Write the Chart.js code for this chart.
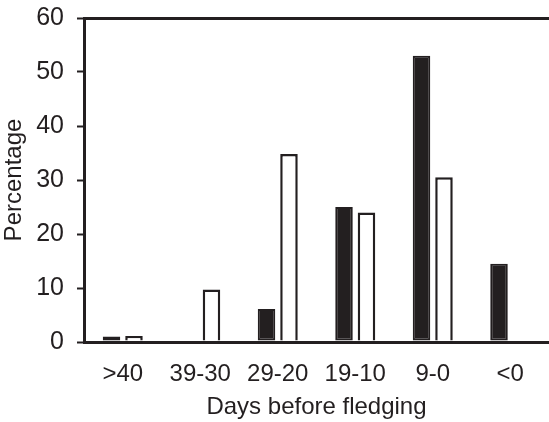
<!DOCTYPE html>
<html>
<head>
<meta charset="utf-8">
<script src="https://cdn.jsdelivr.net/npm/chart.js@4"></script>
<style>
  html, body { margin: 0; padding: 0; background: #fff; }
  #wrap { width: 549px; height: 422px; position: relative; }
</style>
</head>
<body>
<div id="wrap"><canvas id="fledgeChart"></canvas></div>
<script>
// Days before fledging, grouped by period
const periods = ['>40', '39-30', '29-20', '19-10', '9-0', '<0'];
const filledSeries = [1.0, 0, 6.1, 25.0, 53.0, 14.5];
const openSeries = [1.1, 9.7, 34.8, 24.0, 30.5, 0];
const yTicks = [0, 10, 20, 30, 40, 50, 60];

const ink = '#231f20';
const font = { family: 'Arial, "Liberation Sans", sans-serif', size: 24 };
const yFont = { family: 'Arial, "Liberation Sans", sans-serif', size: 25 };

const ctx = document.getElementById('fledgeChart').getContext('2d');

new Chart(ctx, {
  type: 'bar',
  data: {
    labels: periods,
    datasets: [
      {
        label: 'filled',
        data: filledSeries,
        backgroundColor: ink,
        borderColor: ink,
        borderWidth: 2,
        borderSkipped: false
      },
      {
        label: 'open',
        data: openSeries,
        backgroundColor: '#ffffff',
        borderColor: ink,
        borderWidth: 2.5,
        borderSkipped: 'bottom'
      }
    ]
  },
  options: {
    responsive: true,
    maintainAspectRatio: false,
    animation: false,
    categoryPercentage: 0.58,
    barPercentage: 0.78,
    layout: { padding: { top: 18, right: 0, bottom: 0, left: 0 } },
    plugins: {
      legend: { display: false },
      tooltip: { enabled: false }
    },
    scales: {
      x: {
        grid: { display: true, color: 'transparent', drawTicks: false },
        border: { display: true, color: ink, width: 3 },
        ticks: { color: ink, font, padding: 18 },
        title: {
          display: true,
          text: 'Days before fledging',
          color: ink,
          font,
          padding: { top: 0, bottom: 0 }
        },
        afterFit(scale) {
          scale.height = 80;
          scale.paddingLeft = 0;
          scale.paddingRight = 0;
        }
      },
      y: {
        min: 0,
        max: 60,
        afterBuildTicks(scale) {
          scale.ticks = yTicks.map(v => ({ value: v }));
        },
        grid: {
          // only the top value draws a line across, closing the frame
          color: c => (c.tick && c.tick.value === 60 ? ink : 'transparent'),
          lineWidth: 3,
          drawTicks: true,
          tickLength: 7,
          tickColor: ink,
          tickWidth: 2
        },
        border: { display: true, color: ink, width: 3 },
        ticks: { color: ink, font: yFont, padding: 13 },
        title: {
          display: true,
          text: 'Percentage',
          color: ink,
          font,
          padding: { top: 0, bottom: 0 }
        },
        afterFit(scale) {
          scale.width = 84;
          scale.paddingTop = 0;
          scale.paddingBottom = 0;
        }
      }
    }
  }
});
</script>
</body>
</html>
